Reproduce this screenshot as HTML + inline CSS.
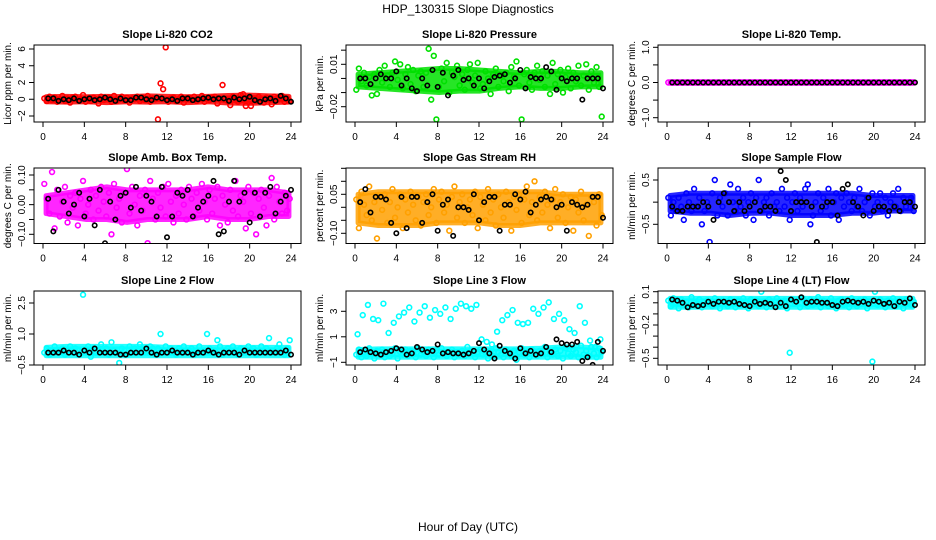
<!DOCTYPE html>
<html><head><meta charset="utf-8"><style>
body{margin:0;background:#fff}
svg{display:block;font-family:"Liberation Sans",Arial,sans-serif}
</style></head><body>
<svg id="c" width="936" height="540" viewBox="0 0 936 540">
<text x="468" y="13" text-anchor="middle" font-size="12">HDP_130315  Slope Diagnostics</text>
<text x="468" y="531" text-anchor="middle" font-size="12">Hour of Day (UTC)</text>
</svg>
<script>
const co2C=[0.1,-0.2,0.3,-0.1,0.2,-0.3,0.0,0.4,-0.2,0.1,-0.4,0.2,0.3,-0.1,0.0,0.5,-0.3,0.1,-0.2,0.2,0.0,-0.5,0.3,-0.1,0.1,0.2,-0.3,0.4,-0.2,0.0,0.3,-0.1,0.2,-0.4,0.1,0.0,0.3,-0.2,0.2,-0.1,0.4,-0.3,0.1,0.0,-2.4,1.9,1.2,6.2,-0.3,0.1,0.2,-0.2,0.0,0.3,-0.4,0.1,0.2,-0.1,0.3,-0.2,0.0,0.4,-0.3,0.1,-0.1,0.2,0.3,-0.5,0.1,1.7,0.0,-0.2,-0.7,0.3,0.1,-0.3,0.5,0.6,-0.8,0.2,-0.8,0.1,-0.2,0.3,0.0,-0.4,0.2,0.1,-0.6,0.3,-0.1,0.2,0.4,-0.3,0.1,-0.2];
const co2K=[0.1,0.1,-0.2,0.0,-0.1,0.1,-0.2,0.0,0.1,-0.1,0.0,0.2,0.0,-0.2,0.1,-0.1,-0.1,0.2,0.2,0.0,-0.1,0.2,0.1,-0.1,0.0,-0.2,0.1,0.1,-0.1,0.0,0.1,0.2,0.0,0.1,0.1,-0.2,0.2,0.0,0.1,0.3,-0.1,-0.3,0.0,0.1,-0.2,0.4,0.1,-0.3];
const co2Lo=[-0.3,-0.35,-0.3,-0.4,-0.3,-0.35,-0.3,-0.4,-0.3,-0.45,-0.5,-0.4,-0.35];
const co2Hi=[0.3,0.35,0.3,0.35,0.3,0.4,0.35,0.3,0.35,0.45,0.5,0.4,0.35];
const presC=[-0.008,0.007,-0.002,0.004,-0.005,0.001,-0.012,0.003,-0.011,0.006,-0.003,0.009,0.002,-0.006,0.004,0.012,-0.001,0.010,-0.007,0.003,0.008,-0.004,0.006,-0.009,0.002,0.005,-0.006,0.004,0.021,-0.015,0.016,-0.029,-0.006,0.007,-0.002,0.011,-0.010,0.004,0.001,0.009,-0.005,0.003,-0.008,0.006,0.010,-0.003,0.002,0.011,-0.007,-0.004,0.005,0.000,-0.011,0.003,0.007,-0.006,0.002,-0.002,0.004,-0.009,0.008,0.001,0.012,-0.005,-0.029,0.003,0.006,-0.003,-0.008,0.004,0.009,-0.001,0.005,-0.006,0.002,-0.011,0.011,-0.004,0.003,0.006,-0.010,0.001,0.007,-0.007,0.004,-0.002,0.009,-0.005,0.002,0.010,-0.008,0.005,-0.003,0.008,-0.006,-0.027];
const presK=[0.000,0.000,-0.004,0.000,0.003,0.000,0.000,0.005,-0.005,0.000,-0.007,-0.009,0.000,-0.005,0.006,-0.006,0.004,-0.012,0.002,0.006,-0.001,0.000,-0.005,0.000,-0.007,-0.002,0.001,0.002,0.003,-0.003,0.000,0.006,-0.007,0.001,0.000,0.000,0.008,0.005,-0.008,0.000,-0.002,0.000,0.000,-0.015,0.000,0.000,0.000,-0.007];
const presLo=[-0.006,-0.007,-0.008,-0.009,-0.010,-0.009,-0.009,-0.007,-0.006,-0.007,-0.007,-0.006,-0.006];
const presHi=[0.003,0.004,0.005,0.006,0.007,0.007,0.006,0.005,0.004,0.005,0.005,0.004,0.004];
const tempC=[0,0,0,0,0,0,0,0,0,0,0,0,0,0,0,0,0,0,0,0,0,0,0,0,0,0,0,0,0,0,0,0,0,0,0,0,0,0,0,0,0,0,0,0,0,0,0,0,0,0,0,0,0,0,0,0,0,0,0,0,0,0,0,0,0,0,0,0,0,0,0,0,0,0,0,0,0,0,0,0,0,0,0,0,0,0,0,0,0,0,0,0,0,0,0,0];
const tempK=[0,0,0,0,0,0,0,0,0,0,0,0,0,0,0,0,0,0,0,0,0,0,0,0,0,0,0,0,0,0,0,0,0,0,0,0,0,0,0,0,0,0,0,0,0,0,0,0];
const tempLo=[-0.02,-0.02,-0.02,-0.02,-0.02,-0.02,-0.02,-0.02,-0.02,-0.02,-0.02,-0.02,-0.02];
const tempHi=[0.02,0.02,0.02,0.02,0.02,0.02,0.02,0.02,0.02,0.02,0.02,0.02,0.02];
const ambC=[0.07,0.02,-0.03,0.11,-0.08,0.05,-0.04,0.01,0.06,-0.06,0.03,-0.01,0.04,-0.07,0.02,0.08,-0.03,0.00,0.05,-0.05,0.03,-0.02,0.06,0.01,-0.04,0.04,-0.10,0.07,-0.01,0.02,-0.06,0.04,0.12,-0.03,0.06,0.00,-0.07,0.03,-0.02,0.05,-0.13,0.08,0.02,-0.05,0.04,-0.01,0.06,-0.04,0.07,0.01,-0.06,0.03,-0.03,0.05,0.00,-0.05,0.06,0.02,-0.04,0.04,-0.02,0.07,0.01,-0.05,0.05,-0.03,0.02,0.06,-0.07,0.03,0.00,-0.06,0.05,-0.02,0.08,-0.04,0.03,0.01,-0.08,0.06,-0.03,0.04,-0.10,0.02,0.05,-0.01,-0.07,0.03,0.09,-0.05,0.06,0.01,-0.03,0.04,-0.02,0.02];
const ambK=[0.02,-0.09,0.05,0.01,-0.03,0.00,0.04,-0.04,0.02,-0.07,0.05,-0.13,0.01,-0.05,0.03,0.04,-0.01,0.06,-0.02,0.03,0.01,-0.04,0.06,-0.11,-0.04,0.04,0.03,0.05,-0.04,-0.01,0.01,0.03,0.08,-0.10,-0.09,0.01,0.08,0.01,0.04,-0.06,0.04,-0.04,0.04,0.06,-0.03,0.01,0.03,0.05];
const ambLo=[-0.03,-0.04,-0.05,-0.05,-0.06,-0.05,-0.05,-0.05,-0.04,-0.05,-0.05,-0.04,-0.04];
const ambHi=[0.03,0.04,0.05,0.06,0.05,0.05,0.05,0.05,0.06,0.05,0.05,0.05,0.04];
const rhC=[0.03,-0.08,0.06,0.01,-0.03,0.08,-0.05,0.02,-0.12,0.04,-0.01,0.05,-0.06,0.02,0.07,-0.04,0.00,0.05,-0.08,0.03,-0.02,0.06,0.01,-0.05,0.04,-0.07,0.02,0.05,-0.03,0.00,0.07,-0.06,0.03,0.06,-0.02,0.01,-0.09,0.04,0.08,-0.04,0.02,0.05,-0.06,0.00,0.03,-0.03,0.06,-0.08,0.04,0.01,-0.05,0.07,-0.02,0.03,-0.07,0.05,0.00,-0.04,0.06,0.02,-0.09,0.04,-0.01,0.05,-0.06,0.03,0.08,-0.03,0.02,0.10,-0.05,0.04,-0.02,0.06,0.01,-0.08,0.03,0.07,-0.04,0.02,0.05,-0.06,0.00,0.04,-0.09,0.03,-0.02,0.06,-0.05,0.01,-0.11,0.04,0.02,-0.07,0.05,-0.03];
const rhK=[0.02,0.07,-0.02,0.04,0.04,0.03,-0.06,-0.10,0.04,-0.08,0.04,0.04,-0.06,0.02,0.05,-0.09,0.01,0.03,-0.11,0.00,0.00,-0.01,0.05,-0.05,0.02,0.04,0.04,-0.09,0.01,0.01,0.05,0.03,0.06,-0.02,0.01,0.03,0.04,0.03,0.00,0.01,-0.09,0.02,0.01,0.00,0.01,0.04,0.04,-0.04];
const rhLo=[-0.06,-0.07,-0.07,-0.07,-0.06,-0.06,-0.06,-0.07,-0.07,-0.06,-0.06,-0.06,-0.06];
const rhHi=[0.05,0.06,0.06,0.06,0.06,0.06,0.06,0.06,0.06,0.06,0.05,0.05,0.05];
const flowC=[0.1,-0.3,0.0,-0.2,0.1,-0.1,-0.4,0.2,0.0,-0.2,0.3,-0.1,0.1,-0.5,-0.2,0.0,-0.9,0.2,0.5,-0.3,0.1,-0.1,0.2,-0.3,0.4,0.0,-0.2,0.3,-0.1,0.1,-0.3,0.0,0.2,-0.4,0.1,0.5,-0.2,0.0,0.1,-0.3,0.2,-0.1,0.0,-0.2,0.3,-0.1,0.1,-0.4,0.0,0.2,-0.2,0.1,-0.1,0.3,0.4,-0.5,-0.3,0.0,0.2,-0.2,0.1,-0.1,0.3,-0.3,0.0,0.2,-0.4,0.1,-0.1,0.2,0.0,-0.2,0.1,-0.1,0.3,-0.2,0.0,0.1,-0.3,0.2,-0.1,0.0,0.2,-0.2,0.1,-0.3,0.0,0.2,-0.1,0.3,-0.2,0.1,-0.1,0.0,0.1,-0.2];
const flowK=[-0.1,-0.2,-0.2,-0.1,-0.1,-0.1,0.0,-0.1,-0.4,0.0,0.2,0.0,-0.2,0.0,-0.2,-0.1,0.0,-0.2,-0.1,-0.1,-0.2,0.7,0.5,-0.2,0.0,0.0,0.0,-0.1,-0.9,-0.1,0.0,0.0,-0.3,0.3,0.4,0.0,-0.1,-0.3,0.1,-0.2,-0.1,-0.1,-0.2,-0.1,-0.2,0.0,0.0,-0.1];
const flowLo=[-0.2,-0.25,-0.25,-0.3,-0.25,-0.25,-0.3,-0.3,-0.3,-0.25,-0.25,-0.2,-0.2];
const flowHi=[0.15,0.2,0.2,0.2,0.2,0.2,0.2,0.2,0.2,0.2,0.15,0.15,0.15];
const l2C=[0.1,0.3,0.0,0.2,0.4,0.1,0.2,0.3,0.0,0.2,0.4,0.1,0.3,0.2,0.1,2.9,0.2,0.4,-0.1,0.3,0.1,0.2,0.5,0.1,0.3,0.0,0.6,0.2,0.1,-0.4,0.3,0.2,0.0,0.4,0.1,0.3,0.2,0.5,0.1,0.3,0.2,0.4,0.3,0.0,0.3,1.0,0.2,0.4,0.1,0.3,0.2,0.0,0.3,0.2,0.4,0.1,0.2,0.3,0.0,0.2,0.4,0.1,0.2,1.0,0.3,0.1,0.2,0.7,0.4,0.0,0.2,0.3,0.1,0.4,0.2,0.0,0.3,0.2,0.1,0.4,0.2,0.3,0.0,0.2,0.4,0.1,0.3,0.8,0.2,0.1,0.3,0.5,0.2,0.0,0.3,0.7];
const l2K=[0.1,0.1,0.1,0.2,0.1,0.1,0.0,0.2,0.1,0.3,0.1,0.1,0.1,0.1,0.0,0.0,0.1,0.1,0.1,0.3,0.1,0.0,0.1,0.1,0.2,0.1,0.1,0.1,0.0,0.1,0.1,0.2,0.1,0.0,0.1,0.1,0.1,0.0,0.2,0.1,0.1,0.1,0.1,0.1,0.1,0.1,0.2,0.0];
const l2Lo=[-0.05,-0.05,-0.05,-0.05,-0.05,-0.05,-0.05,-0.05,-0.05,-0.05,-0.05,-0.05,-0.05];
const l2Hi=[0.35,0.4,0.4,0.4,0.4,0.4,0.35,0.35,0.35,0.35,0.35,0.35,0.35];
const l3C=[-0.4,0.0,-0.6,-0.2,-0.5,0.1,-0.3,-0.7,-0.1,-0.4,0.0,-0.6,-0.2,-0.5,-0.3,0.1,-0.7,-0.2,-0.4,0.0,-0.5,-0.1,-0.3,-0.6,0.1,-0.4,-0.2,-0.5,0.0,-0.3,-0.6,-0.1,-0.4,0.1,-0.2,-0.5,-0.3,0.0,-0.6,-0.2,-0.4,-0.1,-0.5,0.2,-0.3,-0.1,-0.6,-0.2,0.0,-0.4,-0.3,-0.7,-0.1,-0.5,0.1,-0.2,-0.4,-0.6,0.0,-0.3,-0.5,-0.1,-0.8,-0.2,0.1,-0.4,-0.3,-0.6,0.0,-0.2,-0.5,-0.1,-0.3,0.2,-0.6,-0.2,-0.4,0.0,-0.5,-0.1,-0.7,0.1,-0.3,-0.5,0.0,-0.2,-0.6,0.3,-0.4,-0.1,-0.5,0.2,-0.3,-0.6,0.1,-0.2];
const l3U=[1.2,2.7,3.5,2.4,2.3,3.6,1.3,2.1,2.6,2.9,3.3,2.2,2.9,3.4,2.5,3.1,2.8,3.3,2.4,3.2,3.6,3.4,3.2,3.5,0.8,0.6,0.4,1.4,2.3,2.7,3.1,2.1,2.0,2.1,3.2,2.8,3.3,3.7,2.4,2.8,2.3,1.6,1.3,3.4,2.1,0.7,0.2,0.8];
const l3K=[-0.2,0.0,-0.2,-0.3,-0.4,-0.2,-0.1,0.1,0.0,-0.4,-0.3,0.2,0.0,-0.2,-0.1,0.4,-0.3,-0.2,-0.3,-0.3,-0.4,-0.3,-0.1,0.5,0.0,-0.3,-0.7,0.3,-0.1,-0.3,-0.7,0.1,-0.3,-0.1,-0.4,-0.3,0.2,-0.2,0.8,0.5,0.4,0.4,0.6,-0.9,-0.6,-1.2,0.6,-0.1];
const l3Lo=[-0.6,-0.6,-0.6,-0.6,-0.6,-0.6,-0.6,-0.6,-0.6,-0.6,-0.6,-0.6,-0.6];
const l3Hi=[0.0,0.05,0.05,0.05,0.05,0.05,0.05,0.05,0.05,0.1,0.2,0.2,0.1];
const l4C=[0.02,-0.03,0.04,0.00,-0.05,0.03,-0.02,0.01,-0.04,0.05,0.00,-0.02,0.03,-0.04,0.01,0.02,-0.62,-0.03,0.04,-0.01,-0.05,0.02,0.00,-0.03,0.03,0.01,-0.04,0.02,-0.02,0.04,0.00,-0.05,0.03,-0.01,0.02,-0.03,0.10,0.01,-0.04,0.03,0.00,-0.02,0.04,-0.03,0.01,0.02,-0.05,-0.45,0.03,-0.01,0.02,-0.04,0.04,0.00,-0.03,0.03,-0.02,0.01,0.05,-0.04,0.02,0.00,-0.03,0.04,-0.01,-0.05,0.02,0.03,-0.02,0.01,-0.04,0.04,0.00,-0.03,0.02,-0.01,0.03,-0.05,0.01,-0.53,0.10,-0.02,0.03,0.00,-0.04,0.02,-0.01,0.04,-0.03,0.01,0.02,-0.05,0.03,0.00,-0.02,0.01];
const l4K=[0.03,0.02,0.00,-0.04,-0.02,-0.03,-0.02,0.01,-0.01,0.01,0.01,0.00,0.01,-0.01,-0.02,-0.03,0.01,-0.01,0.00,-0.01,-0.04,0.00,-0.03,0.03,0.01,0.05,0.00,0.01,0.01,0.00,0.00,-0.02,-0.03,0.01,0.02,0.01,0.00,0.01,-0.01,0.02,0.01,-0.01,0.00,-0.03,0.01,0.00,0.04,-0.02];
const l4Lo=[-0.04,-0.04,-0.04,-0.04,-0.04,-0.04,-0.04,-0.04,-0.04,-0.04,-0.04,-0.04,-0.04];
const l4Hi=[0.04,0.04,0.04,0.04,0.04,0.04,0.04,0.04,0.04,0.04,0.04,0.04,0.04];
const xTicks=[0,4,8,12,16,20,24];

const NS="http://www.w3.org/2000/svg";
const svg=document.getElementById('c');
function mk(tag,at,parent){const e=document.createElementNS(NS,tag);for(const k in at)e.setAttribute(k,at[k]);(parent||svg).appendChild(e);return e;}

const panels=[
 {t:"Slope Li-820 CO2",yl:"Licor ppm per min.",col:0,row:0,a:[6,49,-2,116],ticks:[-2,0,2,4,6],labs:[-2,0,2,4,6],c:"#ff0000",series:[co2C],k:co2K,lo:co2Lo,hi:co2Hi},
 {t:"Slope Li-820 Pressure",yl:"kPa per min.",col:1,row:0,a:[0.01,64.3,-0.02,106.7],ticks:[-0.02,-0.01,0,0.01,0.02],labs:[-0.02,0.01],c:"#00e000",series:[presC],k:presK,lo:presLo,hi:presHi},
 {t:"Slope Li-820 Temp.",yl:"degrees C per min.",col:2,row:0,a:[1,47.3,-1,117.7],ticks:[-1,-0.5,0,0.5,1],labs:[-1,0,1],fmt:1,c:"#ff00ff",series:[tempC],k:tempK,lo:tempLo,hi:tempHi},
 {t:"Slope Amb. Box Temp.",yl:"degrees C per min.",col:0,row:1,a:[0.1,175,-0.1,234.3],ticks:[-0.1,-0.05,0,0.05,0.1],labs:[-0.1,0,0.1],fmt:2,c:"#ff00ff",series:[ambC],k:ambK,lo:ambLo,hi:ambHi},
 {t:"Slope Gas Stream RH",yl:"percent per min.",col:1,row:1,a:[0.05,194.3,-0.1,233.3],ticks:[-0.1,-0.05,0,0.05,0.1,0.15],labs:[-0.1,0.05],fmt:2,c:"#ffa000",series:[rhC],k:rhK,lo:rhLo,hi:rhHi},
 {t:"Slope Sample Flow",yl:"ml/min per min.",col:2,row:1,a:[0.5,180,-0.5,224.3],ticks:[-0.5,0,0.5],labs:[-0.5,0.5],c:"#0000ff",series:[flowC],k:flowK,lo:flowLo,hi:flowHi},
 {t:"Slope Line 2 Flow",yl:"ml/min per min.",col:0,row:2,a:[2.5,303,-0.5,365],ticks:[-0.5,1,2.5],labs:[-0.5,1,2.5],fmt:1,c:"#00ffff",series:[l2C],k:l2K,lo:l2Lo,hi:l2Hi},
 {t:"Slope Line 3 Flow",yl:"ml/min per min.",col:1,row:2,a:[3,311.3,-1,362.3],ticks:[-1,1,3],labs:[-1,1,3],c:"#00ffff",series:[l3C,l3U],k:l3K,lo:l3Lo,hi:l3Hi},
 {t:"Slope Line 4 (LT) Flow",yl:"ml/min per min.",col:2,row:2,a:[0.1,291.7,-0.5,358.3],ticks:[-0.5,-0.4,-0.3,-0.2,-0.1,0,0.1],labs:[-0.5,-0.2,0.1],fmt:1,c:"#00ffff",series:[l4C],k:l4K,lo:l4Lo,hi:l4Hi}
];
function fmtv(v,f){let s=f?v.toFixed(f):String(+v.toFixed(3));return s.replace('-','\u2212');}

panels.forEach((p,pi)=>{
 const g=mk('g',{});
 
 
 const ox=p.col*312, left=34+ox, right=301+ox;
 const top=45+123*p.row, bot=122+121.5*p.row;
 const xs=h=>43+ox+h*(248/24);
 const ys=v=>p.a[1]+(v-p.a[0])*(p.a[3]-p.a[1])/(p.a[2]-p.a[0]);
 const cx=(left+right)/2;
 const tt=mk('text',{x:cx,y:top-7,'text-anchor':'middle','font-size':'11','font-weight':'bold'},g);
 tt.textContent=p.t;
 
 
 const ylab=mk('text',{x:0,y:0,transform:`translate(${ox+11},${(top+bot)/2}) rotate(-90)`,'text-anchor':'middle','font-size':'10'},g);
 ylab.textContent=p.yl;
 
 
 const cp=mk('clipPath',{id:'cp'+pi},g);
 mk('rect',{x:left,y:top,width:right-left,height:bot-top},cp);
 const pts=mk('g',{'clip-path':`url(#cp${pi})`},g);
 // dense band of many samples
 const n=p.lo.length;
 let d='';
 p.hi.forEach((v,i)=>{const h=0.3+i*(23.5/(n-1));d+=(i?'L':'M')+xs(h)+','+ys(v);});
 for(let i=n-1;i>=0;i--){const h=0.3+i*(23.5/(n-1));d+='L'+xs(h)+','+ys(p.lo[i]);}
 const band=mk('path',{d:d+'Z',fill:p.c,stroke:p.c,'stroke-width':5,'stroke-linejoin':'round','fill-opacity':0.85,'stroke-opacity':0.85},pts);
 
 
 p.series.forEach(arr=>{
  arr.forEach((v,i)=>{
   const h=(i+0.5)*24/arr.length;
   const c=mk('circle',{cx:xs(h),cy:ys(v),r:2.4,fill:'none',stroke:p.c,'stroke-width':1.6},pts);
   
   
  });
 });
 p.k.forEach((v,i)=>{
  const h=(i+1)*0.5;
  const c=mk('circle',{cx:xs(h),cy:ys(v),r:2.2,fill:'none',stroke:'#000','stroke-width':1.6},pts);
  
  
 });
 const box=mk('rect',{x:left,y:top,width:right-left,height:bot-top,fill:'none',stroke:'#000','stroke-width':1},g);
 
 
 xTicks.forEach(t=>{
  mk('line',{x1:xs(t),x2:xs(t),y1:bot,y2:bot+5,stroke:'#000'},g);
  const tx=mk('text',{x:xs(t),y:bot+18,'text-anchor':'middle','font-size':'10'},g);
  tx.textContent=t;
  
  
 });
 p.ticks.forEach(t=>{
  mk('line',{x1:left-5,x2:left,y1:ys(t),y2:ys(t),stroke:'#000'},g);
 });
 p.labs.forEach(t=>{
  const ty=mk('text',{x:0,y:0,transform:`translate(${left-9},${ys(t)}) rotate(-90)`,'text-anchor':'middle','font-size':'10'},g);
  ty.textContent=fmtv(t,p.fmt);
  
  
 });
});
</script>
</body></html>
